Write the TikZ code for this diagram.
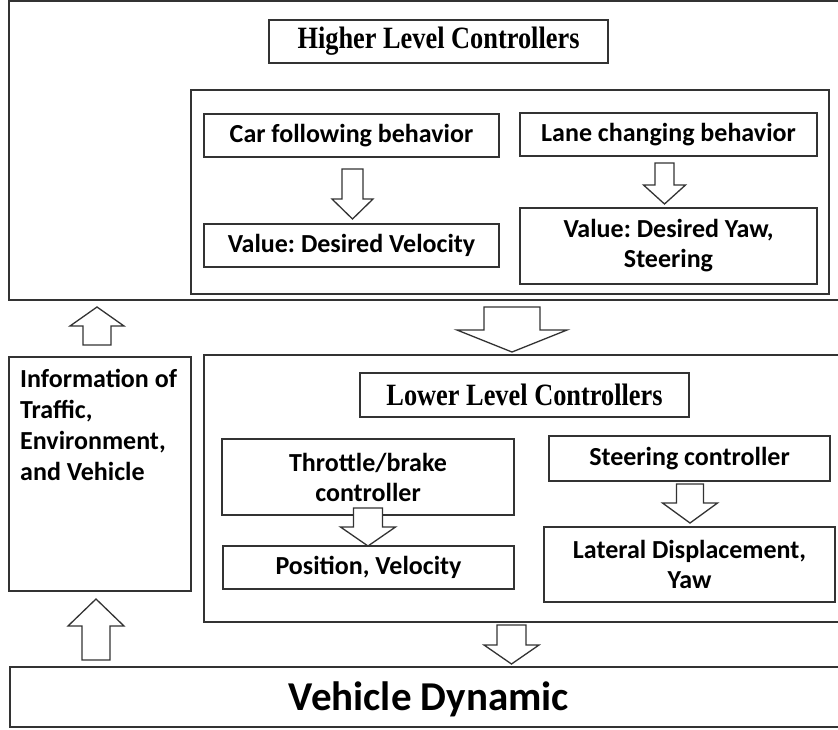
\documentclass[tikz,border=0pt]{standalone}
\usepackage{fontspec}
\setmainfont{Carlito}
\newfontfamily\timesfont{Liberation Serif}
\usetikzlibrary{calc}
\frenchspacing

% block arrows: centre x, start y, head base y, tip y, shaft half width, head half width
\newcommand{\blockarrow}[6]{%
\draw[blk] (#1-#5,#2) -- (#1+#5,#2) -- (#1+#5,#3) -- (#1+#6,#3) -- (#1,#4)
  -- (#1-#6,#3) -- (#1-#5,#3) -- cycle;}

\begin{document}
\begin{tikzpicture}[x=1pt,y=-1pt,
  box/.style={draw=black!80,line width=1.5pt,fill=white,inner sep=0pt,align=center,
    font=\fontsize{26}{30}\selectfont\bfseries},
  frame/.style={draw=black!80,line width=1.5pt},
  title/.style={box,font=\fontsize{31}{32}\selectfont\timesfont\bfseries},
  blk/.style={draw=black!80,line width=1.3pt,fill=white,line join=miter}]
\useasboundingbox (0,0) rectangle (838,729);
\clip (0,0) rectangle (838,729);

% upper part
\draw[frame] (9,1) rectangle (850,300);
\node[title,minimum width=339,minimum height=43] (higher) at (438.5,41.5)
  {\scalebox{0.85}[1]{Higher Level Controllers}};
\draw[frame] (191,90) rectangle (829,294);
\node[box,minimum width=295,minimum height=43] (car) at (351.5,135.5) {Car following behavior};
\node[box,minimum width=297,minimum height=43] (lane) at (668.5,134.5) {Lane changing behavior};
\node[box,minimum width=295,minimum height=43] (vel) at (351.5,245.5) {Value: Desired Velocity};
\node[box,minimum width=297,minimum height=76] (yaw) at (668.5,246) {Value: Desired Yaw,\\Steering};
\blockarrow{352.5}{169}{199}{219}{10.5}{20.5}
\blockarrow{664.5}{163}{185}{204}{9.5}{21}

% between
\blockarrow{512}{307}{330}{352}{28}{55}
\blockarrow{97}{345}{326}{307}{14}{27}

% lower part
\node[frame,minimum width=182,minimum height=234] (info) at (100,474) {};
\node[anchor=north west,align=left,inner sep=0pt,
  font=\fontsize{26}{31}\selectfont\bfseries] (infotext) at (20,369)
  {Information of\\Traffic,\\Environment,\\and Vehicle};
\draw[frame] (204,355) rectangle (850,622);
\node[title,minimum width=329,minimum height=44] (lower) at (524.5,395)
  {\scalebox{0.85}[1]{Lower Level Controllers}};
\node[box,minimum width=292,minimum height=76] (throttle) at (368,477) {Throttle/brake\\controller};
\node[box,minimum width=281,minimum height=45] (steer) at (689.5,458.5) {Steering controller};
\node[box,minimum width=291,minimum height=43] (pos) at (368.5,567.5) {Position, Velocity};
\node[box,minimum width=291,minimum height=75] (lat) at (689.5,564.5) {Lateral Displacement,\\Yaw};
\blockarrow{690}{484}{503}{523}{13.5}{27.5}
\blockarrow{368}{508}{527}{546}{14.5}{27.5}

% bottom
\blockarrow{511.5}{625}{645}{664}{14.5}{27.5}
\blockarrow{96}{660}{626}{599}{14}{28}
\node[frame,minimum width=841,minimum height=60,anchor=west,inner sep=0pt] (vehicle) at (9,697) {};
\node[font=\fontsize{41}{41}\selectfont\bfseries] (vehtext) at (429,699) {Vehicle Dynamic};
\end{tikzpicture}
\end{document}
